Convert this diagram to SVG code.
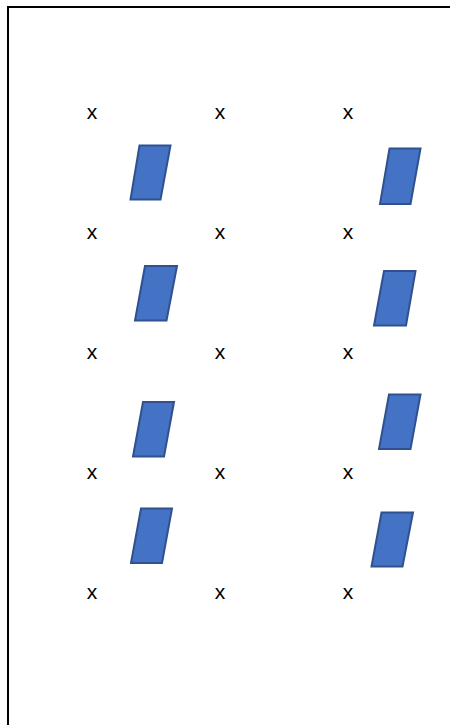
<svg xmlns="http://www.w3.org/2000/svg" width="450" height="725" viewBox="0 0 450 725">
<style>
.x{font-family:"Liberation Sans",Arial,sans-serif;font-size:21px;fill:#000;text-anchor:middle}
.p{fill:#4472C4;stroke:#2F528F;stroke-width:2;stroke-linejoin:miter}
</style>
<rect width="450" height="725" fill="#fff"/>
<g id="frame"><path d="M8,725 V7 H452" fill="none" stroke="#000" stroke-width="2"/></g>
<g id="marks">
<text class="x" x="92" y="119">x</text><text class="x" x="220" y="119">x</text><text class="x" x="348" y="119">x</text>
<text class="x" x="92" y="239">x</text><text class="x" x="220" y="239">x</text><text class="x" x="348" y="239">x</text>
<text class="x" x="92" y="359">x</text><text class="x" x="220" y="359">x</text><text class="x" x="348" y="359">x</text>
<text class="x" x="92" y="479">x</text><text class="x" x="220" y="479">x</text><text class="x" x="348" y="479">x</text>
<text class="x" x="92" y="599">x</text><text class="x" x="220" y="599">x</text><text class="x" x="348" y="599">x</text>
</g>
<g id="shape-l1"><polygon class="p" points="139.5,145.5 170.5,145.5 160.5,199.5 130.5,199.5"/></g>
<g id="shape-l2"><polygon class="p" points="145,266 177,266 166.5,320.5 135,320.5"/></g>
<g id="shape-l3"><polygon class="p" points="143,402 174,402 164,456.5 133,456.5"/></g>
<g id="shape-l4"><polygon class="p" points="141,508.5 172,508.5 162,563 131,563"/></g>
<g id="shape-r1"><polygon class="p" points="389.5,148.5 420.5,148.5 410.5,204 380,204"/></g>
<g id="shape-r2"><polygon class="p" points="384,271 415.5,271 406,325.5 374,325.5"/></g>
<g id="shape-r3"><polygon class="p" points="389,394.5 420.5,394.5 410.5,449 379,449"/></g>
<g id="shape-r4"><polygon class="p" points="381.5,512.5 413,512.5 402.5,566.5 371.5,566.5"/></g>
</svg>
